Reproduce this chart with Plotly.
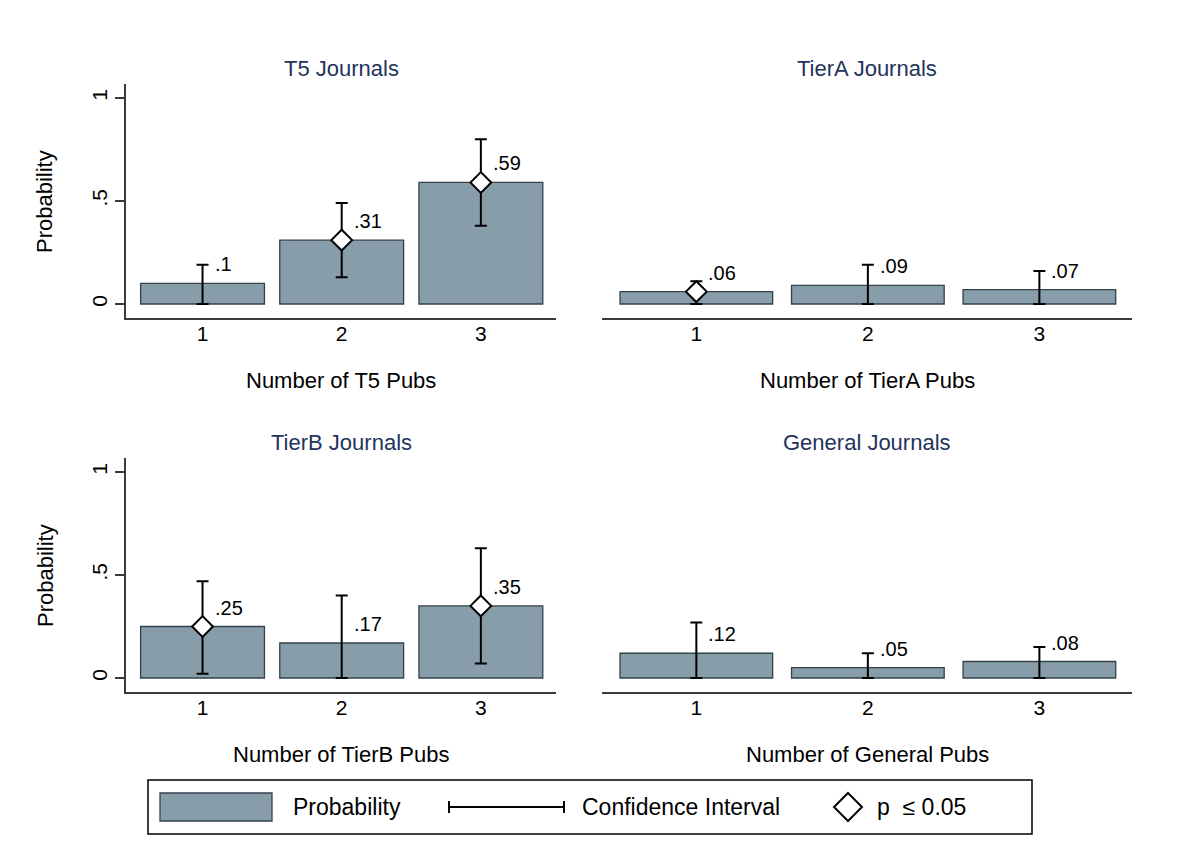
import plotly.graph_objects as go

# ---------------- data ----------------
categories = [1, 2, 3]
x_tick_labels = ["1", "2", "3"]
y_tick_vals = [0, 0.5, 1]
y_tick_labels = ["0", ".5", "1"]

panel_titles = ["T5 Journals", "TierA Journals", "TierB Journals", "General Journals"]
x_titles = ["Number of T5 Pubs", "Number of TierA Pubs", "Number of TierB Pubs", "Number of General Pubs"]

t5_prob = [0.10, 0.31, 0.59]
t5_lo = [0.00, 0.13, 0.38]
t5_hi = [0.19, 0.49, 0.80]
t5_sig = [False, True, True]

tierA_prob = [0.06, 0.09, 0.07]
tierA_lo = [0.00, 0.00, 0.00]
tierA_hi = [0.11, 0.19, 0.16]
tierA_sig = [True, False, False]

tierB_prob = [0.25, 0.17, 0.35]
tierB_lo = [0.02, 0.00, 0.07]
tierB_hi = [0.47, 0.40, 0.63]
tierB_sig = [True, False, True]

general_prob = [0.12, 0.05, 0.08]
general_lo = [0.00, 0.00, 0.00]
general_hi = [0.27, 0.12, 0.15]
general_sig = [False, False, False]

legend_labels = ["Probability", "Confidence Interval", "p  \u2264 0.05"]

# ---------------- style ----------------
OFF = 8                      # page body margin
FW, FH = 1190 - 2 * OFF, 846 - 2 * OFF
FONT = "Liberation Sans, Arial, sans-serif"
BAR_FILL = "#879daa"
BAR_LINE = "#34424c"
AXIS_COL = "#3a3a3a"
TITLE_COL = "#23335c"


def px_x(p):
    return (p - OFF) / FW


def px_y(p):
    return 1 - (p - OFF) / FH


panels = [
    (t5_prob, t5_lo, t5_hi, t5_sig),
    (tierA_prob, tierA_lo, tierA_hi, tierA_sig),
    (tierB_prob, tierB_lo, tierB_hi, tierB_sig),
    (general_prob, general_lo, general_hi, general_sig),
]

# pixel boxes of the four plot areas in the page (left, right, top, bottom)
boxes = [
    (126, 556, 84, 318),
    (602, 1132, 84, 318),
    (126, 556, 458, 692),
    (602, 1132, 458, 692),
]


def fmt(v):
    s = "%g" % round(v, 2)
    return s[1:] if s.startswith("0.") else s


fig = go.Figure()
annotations = []
layout_axes = {}

for i, ((prob, lo, hi, sig), box) in enumerate(zip(panels, boxes)):
    n = i + 1
    xa = "x" if n == 1 else f"x{n}"
    ya = "y" if n == 1 else f"y{n}"
    fig.add_trace(go.Bar(
        x=categories, y=prob, width=0.89, xaxis=xa, yaxis=ya,
        marker=dict(color=BAR_FILL, line=dict(color=BAR_LINE, width=1.3)),
        error_y=dict(type="data", symmetric=False,
                     array=[h - p for h, p in zip(hi, prob)],
                     arrayminus=[p - l for p, l in zip(prob, lo)],
                     color="black", thickness=2, width=6),
        showlegend=False, hoverinfo="skip",
    ))
    sx = [c for c, s in zip(categories, sig) if s]
    sy = [p for p, s in zip(prob, sig) if s]
    if sx:
        fig.add_trace(go.Scatter(
            x=sx, y=sy, mode="markers", xaxis=xa, yaxis=ya,
            marker=dict(symbol="diamond", size=16, color="white",
                        line=dict(color="black", width=2)),
            showlegend=False, hoverinfo="skip",
        ))
    for c, p in zip(categories, prob):
        annotations.append(dict(
            x=c, y=p, xref=xa, yref=ya, text=fmt(p), showarrow=False,
            xanchor="left", yanchor="middle", xshift=10, yshift=19,
            font=dict(family=FONT, size=20, color="black"),
        ))

    l, r, t, b = box
    xname = "xaxis" if n == 1 else f"xaxis{n}"
    yname = "yaxis" if n == 1 else f"yaxis{n}"
    layout_axes[xname] = dict(
        domain=[px_x(l), px_x(r)], anchor=ya, range=[0.45, 3.54],
        tickvals=categories, ticktext=x_tick_labels, ticks="",
        ticklabelstandoff=-4,
        showline=True, linecolor=AXIS_COL, linewidth=1.5,
        showgrid=False, zeroline=False,
        tickfont=dict(family=FONT, size=21, color="black"),
    )
    left_col = (n % 2 == 1)
    layout_axes[yname] = dict(
        domain=[px_y(b), px_y(t)], anchor=xa, range=[-0.068, 1.068],
        tickvals=y_tick_vals, ticktext=y_tick_labels, tickangle=-90,
        ticks="outside", ticklen=9, tickwidth=1.5, tickcolor=AXIS_COL,
        showline=left_col, linecolor=AXIS_COL, linewidth=1.5,
        showticklabels=left_col, showgrid=False, zeroline=False,
        visible=left_col,
        tickfont=dict(family=FONT, size=21, color="black"),
    )
    cx = px_x((l + r) / 2)
    annotations.append(dict(
        x=cx, y=px_y(t - 16), xref="paper", yref="paper", text=panel_titles[i],
        showarrow=False, xanchor="center", yanchor="middle",
        font=dict(family=FONT, size=22, color=TITLE_COL),
    ))
    annotations.append(dict(
        x=cx, y=px_y(b + 62), xref="paper", yref="paper", text=x_titles[i],
        showarrow=False, xanchor="center", yanchor="middle",
        font=dict(family=FONT, size=22, color="black"),
    ))
    if left_col:
        annotations.append(dict(
            x=px_x(45), y=px_y((t + b) / 2), xref="paper", yref="paper",
            text="Probability", textangle=-90, showarrow=False,
            xanchor="center", yanchor="middle",
            font=dict(family=FONT, size=22, color="black"),
        ))

# ---------------- legend (drawn) ----------------
shapes = []
shapes.append(dict(type="rect", xref="paper", yref="paper",
                   x0=px_x(148), x1=px_x(1032), y0=px_y(834), y1=px_y(780),
                   line=dict(color="black", width=1.5), fillcolor="white"))
shapes.append(dict(type="rect", xref="paper", yref="paper",
                   x0=px_x(160), x1=px_x(272), y0=px_y(821), y1=px_y(793),
                   line=dict(color=BAR_LINE, width=1.3), fillcolor=BAR_FILL))
ly = 807
shapes.append(dict(type="line", xref="paper", yref="paper",
                   x0=px_x(449), x1=px_x(564), y0=px_y(ly), y1=px_y(ly),
                   line=dict(color="black", width=2)))
for xx in (449, 564):
    shapes.append(dict(type="line", xref="paper", yref="paper",
                       x0=px_x(xx), x1=px_x(xx), y0=px_y(ly - 6), y1=px_y(ly + 6),
                       line=dict(color="black", width=2)))
dcx, dh = 848, 14
path = (f"M {px_x(dcx)},{px_y(ly - dh)} L {px_x(dcx + dh)},{px_y(ly)} "
        f"L {px_x(dcx)},{px_y(ly + dh)} L {px_x(dcx - dh)},{px_y(ly)} Z")
shapes.append(dict(type="path", xref="paper", yref="paper", path=path,
                   line=dict(color="black", width=2), fillcolor="white"))
for txt, xx in zip(legend_labels, (291, 580, 875)):
    annotations.append(dict(
        x=px_x(xx), y=px_y(ly), xref="paper", yref="paper", text=txt,
        showarrow=False, xanchor="left", yanchor="middle",
        font=dict(family=FONT, size=23, color="black"),
    ))

fig.update_layout(
    width=FW, height=FH,
    margin=dict(l=0, r=0, t=0, b=0),
    paper_bgcolor="white", plot_bgcolor="white",
    barmode="overlay",
    annotations=annotations, shapes=shapes,
    **layout_axes,
)

fig.write_html("out.html")
